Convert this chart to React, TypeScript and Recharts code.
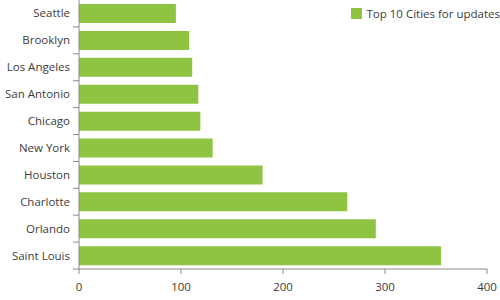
import { BarChart, Bar, XAxis, YAxis, Legend } from 'recharts'

const cities = [
  'Seattle',
  'Brooklyn',
  'Los Angeles',
  'San Antonio',
  'Chicago',
  'New York',
  'Houston',
  'Charlotte',
  'Orlando',
  'Saint Louis',
]
const updates = [95, 108, 111, 117, 119, 131, 180, 263, 291, 355]
const xTicks = [0, 100, 200, 300, 400]
const seriesName = 'Top 10 Cities for updates'

const GREEN = '#8fc442'
const AXIS = '#8a8a8a'
const TEXT = '#3c3c3c'
const FONT = '"Open Sans", "Noto Sans", sans-serif'
const FONT_SIZE = 11.5

const data = cities.map((city, i) => ({ city, value: updates[i] }))

function LegendBox() {
  return (
    <div style={{ display: 'flex', alignItems: 'center', fontFamily: FONT, fontSize: FONT_SIZE, color: TEXT }}>
      <span style={{ width: 11, height: 11, background: GREEN, marginRight: 4, display: 'inline-block' }} />
      {seriesName}
    </div>
  )
}

// label centred on the band, tick mark on the band's lower edge
function CityTick(props: any) {
  const { x, y, payload } = props
  const half = payload.offset ?? 0
  return (
    <g>
      <line x1={x - 6} x2={x} y1={y + half} y2={y + half} stroke={AXIS} />
      <text x={x - 9} y={y} dy={4} textAnchor="end" fontSize={FONT_SIZE} fill={TEXT} fontFamily={FONT}>
        {payload.value}
      </text>
    </g>
  )
}

export default function App() {
  return (
    <div style={{ position: 'fixed', left: 0, top: 0, background: '#fff' }}>
      <BarChart
        width={500}
        height={300}
        data={data}
        layout="vertical"
        barCategoryGap="15%"
        margin={{ top: 0, right: 13, bottom: 0, left: 0 }}
      >
        <YAxis
          type="category"
          dataKey="city"
          width={79}
          tickLine={false}
          axisLine={{ stroke: AXIS }}
          tickSize={0}
          tickMargin={0}
          tick={<CityTick />}
          interval={0}
        />
        <XAxis
          type="number"
          domain={[0, 400]}
          ticks={xTicks}
          height={31}
          tickSize={5}
          tickMargin={9}
          stroke={AXIS}
          tick={{ fontSize: FONT_SIZE, fill: TEXT, fontFamily: FONT }}
        />
        <Legend
          layout="vertical"
          align="center"
          verticalAlign="middle"
          wrapperStyle={{ top: 6, right: 0, left: 'auto', width: 'auto' }}
          content={() => <LegendBox />}
        />
        <Bar
          dataKey="value"
          name={seriesName}
          fill={GREEN}
          isAnimationActive={false}
        />
      </BarChart>
    </div>
  )
}
